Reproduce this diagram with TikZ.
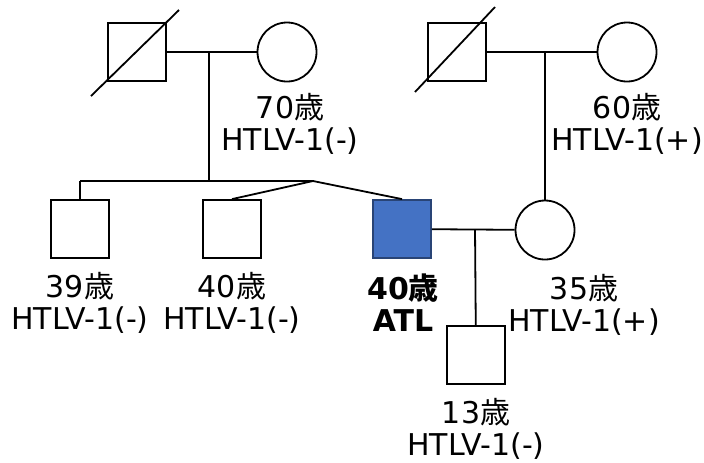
\documentclass[tikz,border=0pt]{standalone}
\usepackage{fontspec}
\setmainfont{DejaVu Sans}
\newfontfamily\cjk{Noto Sans CJK JP}
\newcommand{\sai}{{\cjk 歳}}
\definecolor{atlblue}{HTML}{4472C4}

\begin{document}
\begin{tikzpicture}[x=0.5pt, y=-0.5pt, line width=0.9pt,
    male/.style={draw, minimum size=29pt, inner sep=0pt},
    female/.style={draw, circle, minimum size=29.5pt, inner sep=0pt},
    info/.style={align=center, font=\fontsize{15}{16}\selectfont}]
    \useasboundingbox (0,0) rectangle (704,462);

    % Define the grandparents
    \node[male] (gfa) at (137,52) {};
    \node[female] (gma) at (287,52) {};
    \node[male] (gfb) at (457,52) {};
    \node[female] (gmb) at (627,52) {};

    % Define the children and the grandson
    \node[male] (sib) at (80,229) {};
    \node[male] (twin) at (232,229) {};
    \node[male, fill=atlblue, draw=atlblue!60!black] (atl) at (402,229) {};
    \node[female] (wife) at (545,230) {};
    \node[male] (son) at (476,355) {};

    % Define the points of the lines
    \coordinate (ma) at (209,52);
    \coordinate (mb) at (545,52);
    \coordinate (mc) at (475,229);
    \coordinate (bar) at (209,181);
    \coordinate (bl) at (80,181);
    \coordinate (tw) at (313,181);

    % Draw the deceased
    \draw ([shift={(-46,44)}]gfa.center) -- ([shift={(42,-42)}]gfa.center);
    \draw ([shift={(-42,40)}]gfb.center) -- ([shift={(38,-45)}]gfb.center);

    % Draw the marriages and the descents
    \draw (gfa) -- (gma);
    \draw (gfb) -- (gmb);
    \draw (atl) -- (wife);
    \draw (ma) -- (bar);
    \draw (mb) -- (wife);
    \draw (mc) -- (son);
    \draw (bl) -- (tw);
    \draw (bl) -- (sib);
    \draw (twin.north) -- (tw) -- (atl.north);

    % Place the labels
    \node[info] (lgma) at (290,124) {70\sai\\HTLV-1(-)};
    \node[info] (lgmb) at (627,124) {60\sai\\HTLV-1(+)};
    \node[info] (lsib) at (80,303) {39\sai\\HTLV-1(-)};
    \node[info] (ltwin) at (232,303) {40\sai\\HTLV-1(-)};
    \node[info, font=\fontsize{15}{16}\selectfont\bfseries] (latl) at (403,303) {40\sai\\ATL};
    \node[info] (lwife) at (584,305) {35\sai\\HTLV-1(+)};
    \node[info] (lson) at (476,429) {13\sai\\HTLV-1(-)};

\end{tikzpicture}
\end{document}
